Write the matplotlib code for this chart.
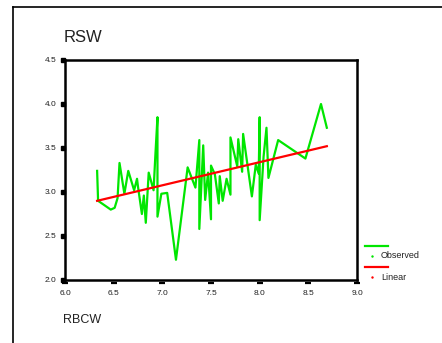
import numpy as np
import matplotlib
matplotlib.use("Agg")
import matplotlib.pyplot as plt
from matplotlib.lines import Line2D
from matplotlib.transforms import ScaledTranslation

plt.rcParams['font.family'] = ['Liberation Sans', 'DejaVu Sans']

# Observed series (RBCW, RSW) in plotted order
rbcw = [6.33, 6.34, 6.47, 6.51, 6.54, 6.56, 6.61, 6.65, 6.71, 6.74, 6.75, 6.79, 6.81,
        6.83, 6.86, 6.91, 6.93, 6.95, 6.95, 6.99, 7.05, 7.14, 7.26, 7.34, 7.38, 7.38,
        7.42, 7.44, 7.47, 7.50, 7.50, 7.54, 7.58, 7.59, 7.62, 7.66, 7.70, 7.70, 7.77,
        7.78, 7.82, 7.83, 7.92, 7.96, 7.99, 8.00, 8.00, 8.04, 8.07, 8.09, 8.19, 8.47,
        8.63, 8.69]
rsw = [3.24, 2.90, 2.80, 2.82, 2.93, 3.33, 2.98, 3.24, 3.02, 3.15, 3.06, 2.75, 2.96,
       2.65, 3.22, 3.02, 3.45, 3.85, 2.72, 2.98, 2.99, 2.23, 3.28, 3.05, 3.59, 2.58,
       3.53, 2.91, 3.22, 2.69, 3.30, 3.20, 2.87, 3.18, 2.90, 3.15, 2.97, 3.62, 3.29,
       3.60, 3.23, 3.66, 2.95, 3.31, 3.21, 3.85, 2.68, 3.40, 3.73, 3.16, 3.59, 3.38,
       4.00, 3.73]
# Linear fit
lin_intercept = 1.235
lin_slope = 0.263

xticks = [6.0, 6.5, 7.0, 7.5, 8.0, 8.5, 9.0]
yticks = [2.0, 2.5, 3.0, 3.5, 4.0, 4.5]
title = "RSW"
xlabel = "RBCW"
legend_labels = ["Observed", "Linear"]

GREEN = '#00e600'
RED = '#ff0000'

fig = plt.figure(figsize=(4.42, 3.43), dpi=100)
ax = fig.add_axes([65/442, 1-280/343, (357-65)/442, (280-60)/343])

x = np.array(rbcw)
ax.plot(x, rsw, color=GREEN, lw=1.6, zorder=2)
ax.plot(x, lin_intercept + lin_slope * x, color=RED, lw=1.6, zorder=3)

ax.set_xlim(6.0, 9.0)
ax.set_ylim(2.0, 4.5)
ax.set_xticks(xticks)
ax.set_yticks(yticks)
ax.set_xticklabels([f"{t:.1f}" for t in xticks], fontsize=6, color='#222222')
ax.set_yticklabels([f"{t:.1f}" for t in yticks], fontsize=6, color='#222222')
ax.tick_params(axis='both', length=0, pad=6)
ax.tick_params(axis='x', pad=7)
for s in ax.spines.values():
    s.set_linewidth(1.8)
    s.set_color('black')

# SPSS-style tick marks
off_y = ax.transData + ScaledTranslation(-2/100, 0, fig.dpi_scale_trans)
ax.plot([6.0] * len(yticks), yticks, ls='', marker='s', ms=2.6, color='black',
        clip_on=False, transform=off_y, zorder=5)
off_x = ax.transData + ScaledTranslation(0, -3/100, fig.dpi_scale_trans)
ax.plot(xticks, [2.0] * len(xticks), ls='', marker='_', ms=5, mew=1.6, color='black',
        clip_on=False, transform=off_x, zorder=5)

fig.text(64/442, 1-38/343, title, fontsize=12, ha='left', va='center', color='#222222')
fig.text(63/442, 1-320/343, xlabel, fontsize=9, ha='left', va='center', color='#222222')

# outer frame
fig.add_artist(Line2D([12.8/442, 12.8/442], [0, 1-7/343], color='black', lw=1.2))
fig.add_artist(Line2D([12.8/442, 1], [1-7/343, 1-7/343], color='black', lw=1.2))

# legend
for (ly, ty, col, lab) in [(246, 256, GREEN, legend_labels[0]), (267, 277, RED, legend_labels[1])]:
    fig.add_artist(Line2D([365/442, 388/442], [1-ly/343, 1-ly/343], color=col, lw=1.6))
    fig.add_artist(Line2D([372/442], [1-ty/343], color=col, marker='s', ms=0.7, ls=''))
    fig.text(381/442, 1-ty/343, lab, fontsize=6.5, ha='left', va='center', color='#222222')

fig.savefig("out.png", dpi=100)
